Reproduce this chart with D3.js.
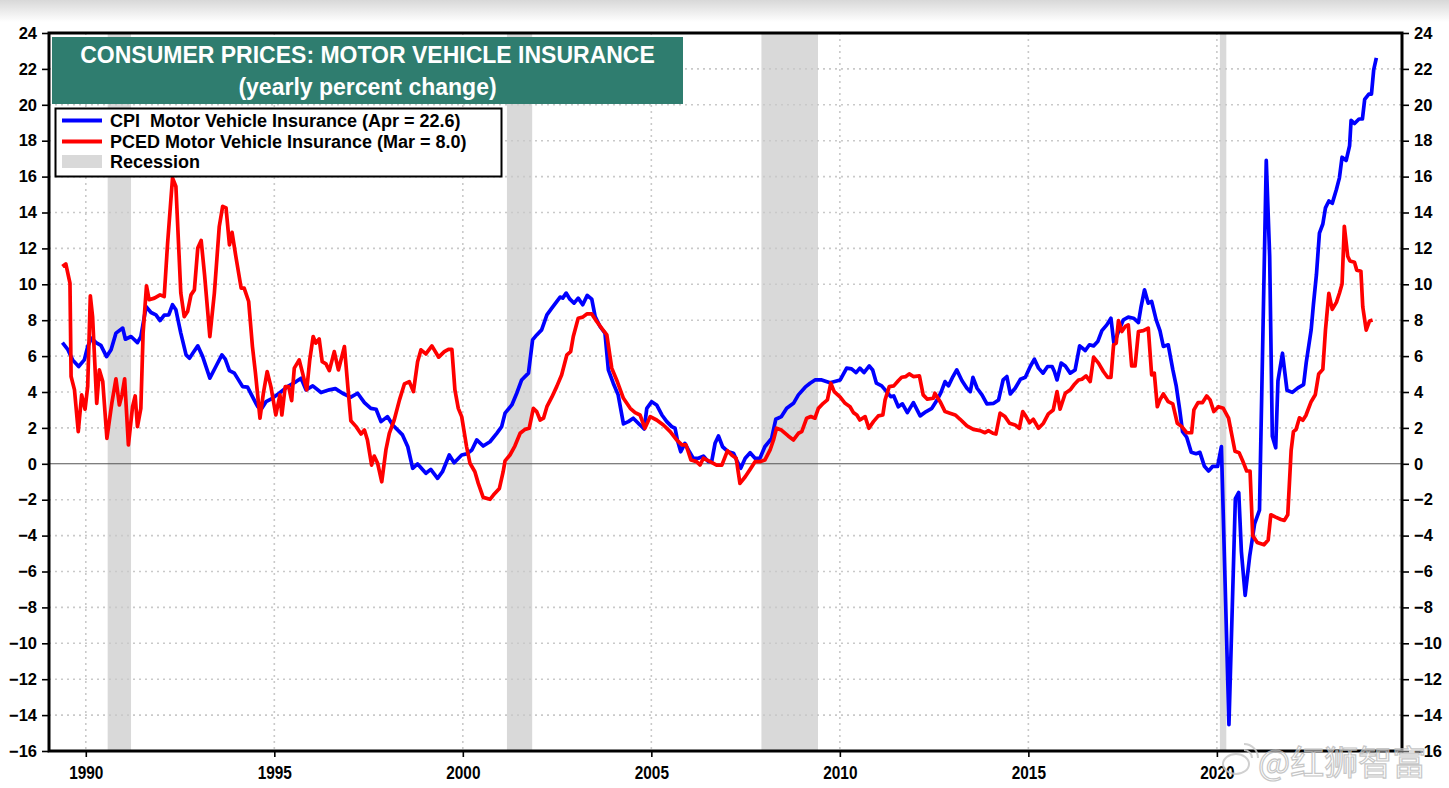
<!DOCTYPE html>
<html>
<head>
<meta charset="utf-8">
<script src="https://cdn.jsdelivr.net/npm/d3@7/dist/d3.min.js"></script>
<style>
  html, body { margin: 0; padding: 0; background: #fff; }
  svg { display: block; }
  text { font-family: "Liberation Sans", Arial, sans-serif; }
</style>
</head>
<body>
<svg id="chart" width="1449" height="788"></svg>
<script>
// ---------------- DATA ----------------
const titleLines = ["CONSUMER PRICES: MOTOR VEHICLE INSURANCE", "(yearly percent change)"];
const legendLabels = ["CPI  Motor Vehicle Insurance (Apr = 22.6)", "PCED Motor Vehicle Insurance (Mar = 8.0)", "Recession"];
const yTicks = [-16,-14,-12,-10,-8,-6,-4,-2,0,2,4,6,8,10,12,14,16,18,20,22,24];
const xTicks = [1990, 1995, 2000, 2005, 2010, 2015, 2020];
const recessionStart = [1990.58, 2001.17, 2007.92, 2020.08];
const recessionEnd   = [1991.20, 2001.84, 2009.42, 2020.25];

// CPI Motor Vehicle Insurance, [decimal year, yoy %]
const cpiPoints = [
[1989.38,6.75],[1989.52,6.38],[1989.65,5.79],[1989.81,5.42],[1989.96,5.79],[1990.05,6.53],[1990.15,7.0],
[1990.27,6.75],[1990.40,6.6],[1990.55,5.97],[1990.67,6.35],[1990.80,7.28],[1990.98,7.56],[1991.05,6.94],
[1991.20,7.09],[1991.37,6.75],[1991.46,7.09],[1991.60,8.76],[1991.73,8.43],[1991.86,8.30],[1991.97,7.98],
[1992.08,8.28],[1992.20,8.30],[1992.30,8.86],[1992.39,8.58],[1992.52,7.28],[1992.66,6.07],[1992.75,5.88],
[1992.85,6.20],[1992.97,6.57],[1993.10,5.97],[1993.29,4.77],[1993.45,5.42],[1993.61,6.07],[1993.70,5.83],
[1993.81,5.19],[1993.94,5.05],[1994.16,4.30],[1994.29,4.27],[1994.42,3.74],[1994.56,3.18],[1994.67,3.09],
[1994.78,3.46],[1994.91,3.60],[1995.13,3.93],[1995.35,4.30],[1995.58,4.58],[1995.71,4.77],[1995.84,4.12],
[1996.02,4.34],[1996.24,3.97],[1996.46,4.12],[1996.62,4.19],[1996.81,3.93],[1997.03,3.71],[1997.21,3.93],
[1997.39,3.41],[1997.56,3.09],[1997.70,3.04],[1997.83,2.35],[1998.00,2.63],[1998.14,2.16],[1998.40,1.61],
[1998.54,0.95],[1998.67,-0.25],[1998.80,-0.01],[1999.02,-0.53],[1999.15,-0.31],[1999.33,-0.81],[1999.46,-0.44],
[1999.64,0.49],[1999.77,0.06],[1999.97,0.49],[2000.10,0.55],[2000.24,0.77],[2000.37,1.33],[2000.54,0.99],
[2000.72,1.23],[2000.90,1.70],[2001.03,2.07],[2001.12,2.82],[2001.30,3.28],[2001.43,3.93],[2001.56,4.67],
[2001.74,5.05],[2001.85,6.90],[2001.96,7.18],[2002.09,7.46],[2002.23,8.30],[2002.36,8.67],[2002.49,9.04],
[2002.58,9.29],[2002.65,9.23],[2002.74,9.51],[2002.84,9.17],[2002.95,8.95],[2003.06,9.23],[2003.18,8.86],
[2003.30,9.38],[2003.42,9.17],[2003.51,8.20],[2003.64,7.65],[2003.77,7.28],[2003.86,5.23],[2003.99,4.49],
[2004.12,3.84],[2004.26,2.22],[2004.39,2.35],[2004.52,2.54],[2004.70,2.16],[2004.81,1.94],[2004.88,3.09],
[2005.01,3.46],[2005.14,3.28],[2005.28,2.72],[2005.41,2.35],[2005.54,2.07],[2005.63,1.98],[2005.69,1.33],
[2005.78,0.67],[2005.89,1.14],[2006.01,0.67],[2006.11,0.31],[2006.25,0.31],[2006.38,0.43],[2006.51,0.12],
[2006.60,0.12],[2006.69,1.14],[2006.78,1.55],[2006.89,0.95],[2007.04,0.67],[2007.18,0.59],[2007.26,0.21],
[2007.37,-0.25],[2007.49,0.31],[2007.62,0.62],[2007.75,0.31],[2007.88,0.31],[2008.01,0.95],[2008.19,1.42],
[2008.30,2.48],[2008.45,2.63],[2008.59,3.09],[2008.77,3.37],[2008.90,3.84],[2009.08,4.27],[2009.21,4.49],
[2009.34,4.67],[2009.52,4.67],[2009.74,4.52],[2010.01,4.67],[2010.18,5.33],[2010.31,5.29],[2010.43,5.08],
[2010.53,5.33],[2010.64,5.08],[2010.78,5.45],[2010.87,5.23],[2010.97,4.49],[2011.11,4.34],[2011.24,4.02],
[2011.35,3.74],[2011.43,3.78],[2011.55,3.18],[2011.66,3.34],[2011.79,2.85],[2011.95,3.41],[2012.13,2.67],
[2012.29,2.91],[2012.44,3.09],[2012.57,3.52],[2012.68,3.97],[2012.79,4.58],[2012.88,4.34],[2013.00,4.86],
[2013.10,5.23],[2013.24,4.63],[2013.37,4.21],[2013.46,4.02],[2013.53,4.82],[2013.64,4.21],[2013.77,3.84],
[2013.90,3.34],[2014.08,3.37],[2014.21,3.56],[2014.33,4.67],[2014.43,4.86],[2014.52,3.89],[2014.65,4.21],
[2014.79,4.71],[2014.92,4.82],[2015.05,5.42],[2015.16,5.83],[2015.27,5.33],[2015.39,5.05],[2015.51,5.42],
[2015.63,5.42],[2015.69,5.14],[2015.76,4.67],[2015.87,5.61],[2015.98,5.45],[2016.11,5.05],[2016.24,5.23],
[2016.36,6.57],[2016.51,6.31],[2016.62,6.63],[2016.73,6.57],[2016.84,6.81],[2016.95,7.42],[2017.08,7.74],
[2017.19,8.11],[2017.27,6.68],[2017.39,7.37],[2017.52,8.02],[2017.65,8.17],[2017.79,8.11],[2017.92,7.87],
[2017.99,8.76],[2018.08,9.69],[2018.18,8.95],[2018.27,9.04],[2018.39,8.02],[2018.49,7.42],[2018.58,6.54],
[2018.71,6.63],[2018.83,5.26],[2018.92,4.36],[2019.01,3.07],[2019.09,1.79],[2019.20,1.48],[2019.32,0.64],
[2019.45,0.56],[2019.55,0.64],[2019.67,-0.14],[2019.78,-0.40],[2019.89,-0.14],[2020.02,-0.14],[2020.12,0.96],
[2020.32,-14.53],[2020.49,-1.94],[2020.58,-1.60],[2020.65,-4.89],[2020.75,-7.33],[2020.87,-5.15],[2021.00,-3.35],
[2021.13,-2.58],[2021.31,16.90],[2021.40,11.56],[2021.47,1.53],[2021.56,0.89],[2021.62,4.62],[2021.74,6.16],
[2021.86,4.10],[2022.00,3.98],[2022.15,4.23],[2022.30,4.41],[2022.37,5.64],[2022.50,7.45],[2022.56,8.86],
[2022.64,10.53],[2022.72,12.85],[2022.81,13.36],[2022.88,14.26],[2022.97,14.64],[2023.06,14.51],[2023.17,15.28],
[2023.25,15.93],[2023.32,17.08],[2023.43,16.90],[2023.52,17.72],[2023.56,19.14],[2023.65,18.96],[2023.77,19.21],
[2023.86,19.21],[2023.92,20.30],[2024.03,20.60],[2024.10,20.60],[2024.16,21.96],[2024.23,22.61]
];

// PCED Motor Vehicle Insurance, [decimal year, yoy %]
const pcedPoints = [
[1989.38,10.99],[1989.47,11.14],[1989.58,10.07],[1989.61,4.86],[1989.70,4.12],[1989.80,1.79],[1989.89,3.84],
[1989.98,3.04],[1990.05,4.30],[1990.12,9.36],[1990.18,8.20],[1990.29,3.37],[1990.36,5.23],[1990.45,4.58],
[1990.56,1.42],[1990.69,3.37],[1990.80,4.73],[1990.89,3.28],[1990.96,3.84],[1991.03,4.73],[1991.13,1.05],
[1991.24,3.18],[1991.31,3.78],[1991.37,2.07],[1991.46,3.09],[1991.52,7.28],[1991.61,9.92],[1991.68,9.14],
[1991.82,9.23],[1991.97,9.41],[1992.08,9.32],[1992.17,12.30],[1992.30,15.92],[1992.39,15.45],[1992.52,9.51],
[1992.61,8.20],[1992.70,8.48],[1992.79,9.41],[1992.88,9.69],[1992.97,12.02],[1993.06,12.44],[1993.15,10.53],
[1993.29,7.09],[1993.41,9.51],[1993.54,13.22],[1993.63,14.34],[1993.72,14.25],[1993.81,12.20],[1993.88,12.89],
[1993.98,11.55],[1994.12,9.79],[1994.20,9.79],[1994.32,9.04],[1994.42,6.53],[1994.50,5.05],[1994.62,2.54],
[1994.71,3.93],[1994.81,5.14],[1994.91,4.30],[1995.04,2.72],[1995.15,3.84],[1995.20,2.72],[1995.29,4.30],
[1995.38,4.30],[1995.46,3.52],[1995.53,5.33],[1995.66,5.79],[1995.75,5.05],[1995.86,4.12],[1995.94,5.79],
[1996.03,7.09],[1996.10,6.72],[1996.19,6.96],[1996.27,5.69],[1996.37,5.57],[1996.46,5.19],[1996.59,6.25],
[1996.70,5.23],[1996.86,6.53],[1996.95,4.30],[1997.03,2.40],[1997.17,2.07],[1997.30,1.66],[1997.39,1.88],
[1997.47,1.33],[1997.58,-0.07],[1997.65,0.43],[1997.74,0.03],[1997.85,-1.0],[1997.96,0.77],[1998.05,1.70],
[1998.18,2.44],[1998.32,3.56],[1998.45,4.45],[1998.58,4.58],[1998.69,4.02],[1998.80,5.69],[1998.89,6.35],
[1999.02,6.12],[1999.18,6.57],[1999.36,5.94],[1999.51,6.25],[1999.62,6.38],[1999.71,6.38],[1999.79,4.12],
[1999.88,3.09],[1999.97,2.63],[2000.10,0.95],[2000.19,0.03],[2000.32,-0.44],[2000.41,-1.09],[2000.54,-1.87],
[2000.72,-1.98],[2000.81,-1.74],[2000.97,-1.37],[2001.07,-0.44],[2001.12,0.16],[2001.25,0.49],[2001.38,0.99],
[2001.52,1.70],[2001.65,1.92],[2001.76,1.98],[2001.87,3.09],[2001.96,2.91],[2002.05,2.44],[2002.14,2.54],
[2002.23,3.18],[2002.36,3.71],[2002.49,4.30],[2002.62,4.95],[2002.76,6.07],[2002.86,6.25],[2002.93,7.09],
[2003.06,8.11],[2003.18,8.17],[2003.29,8.35],[2003.42,8.35],[2003.55,7.93],[2003.68,7.56],[2003.82,7.18],
[2003.95,5.33],[2004.08,4.67],[2004.26,3.65],[2004.44,3.09],[2004.57,2.85],[2004.70,2.72],[2004.83,1.98],
[2004.97,2.63],[2005.14,2.44],[2005.32,2.16],[2005.50,1.79],[2005.67,1.33],[2005.81,1.05],[2005.92,1.05],
[2006.05,0.21],[2006.20,0.12],[2006.29,-0.07],[2006.38,0.31],[2006.56,0.12],[2006.73,-0.07],[2006.87,-0.07],
[2007.02,0.73],[2007.13,0.49],[2007.25,0.31],[2007.35,-1.09],[2007.49,-0.72],[2007.62,-0.31],[2007.75,0.12],
[2007.88,0.12],[2008.01,0.21],[2008.15,0.77],[2008.24,1.33],[2008.32,1.98],[2008.45,1.88],[2008.63,1.55],
[2008.77,1.33],[2008.90,1.70],[2008.99,1.79],[2009.12,2.54],[2009.23,2.63],[2009.34,2.54],[2009.43,3.09],
[2009.56,3.37],[2009.67,3.56],[2009.76,4.49],[2009.85,4.02],[2010.01,3.71],[2010.14,3.37],[2010.27,3.18],
[2010.36,2.85],[2010.45,2.72],[2010.53,2.44],[2010.67,2.63],[2010.77,1.98],[2010.89,2.35],[2011.02,2.67],
[2011.14,2.72],[2011.20,3.56],[2011.31,4.30],[2011.43,4.34],[2011.55,4.63],[2011.64,4.82],[2011.75,4.86],
[2011.84,5.01],[2011.95,4.86],[2012.11,4.90],[2012.21,3.84],[2012.32,3.60],[2012.48,3.65],[2012.52,3.93],
[2012.66,3.46],[2012.79,2.91],[2012.92,2.82],[2013.06,2.72],[2013.19,2.48],[2013.37,2.11],[2013.54,1.92],
[2013.72,1.85],[2013.85,1.73],[2013.94,1.85],[2014.06,1.70],[2014.14,1.66],[2014.25,2.82],[2014.38,2.63],
[2014.50,2.26],[2014.65,2.16],[2014.76,1.98],[2014.85,2.91],[2014.94,2.63],[2015.03,2.29],[2015.13,2.48],
[2015.27,1.98],[2015.40,2.26],[2015.53,2.78],[2015.66,3.00],[2015.76,4.02],[2015.84,3.04],[2015.98,3.93],
[2016.11,4.12],[2016.21,4.40],[2016.33,4.67],[2016.42,4.71],[2016.53,4.90],[2016.64,4.58],[2016.73,5.94],
[2016.86,5.61],[2016.99,5.14],[2017.10,4.82],[2017.19,4.82],[2017.26,6.63],[2017.33,6.72],[2017.39,7.98],
[2017.48,7.37],[2017.57,7.65],[2017.65,7.74],[2017.74,5.45],[2017.83,5.45],[2017.92,7.37],[2018.05,7.42],
[2018.18,7.56],[2018.27,4.95],[2018.34,5.05],[2018.42,3.18],[2018.49,3.56],[2018.58,3.89],[2018.71,3.46],
[2018.83,3.34],[2018.95,2.26],[2019.07,2.07],[2019.20,1.73],[2019.33,1.73],[2019.39,3.00],[2019.50,3.41],
[2019.62,3.41],[2019.73,3.78],[2019.82,3.56],[2019.92,2.91],[2020.04,3.18],[2020.17,3.09],[2020.31,2.55],
[2020.48,0.70],[2020.59,0.62],[2020.68,0.19],[2020.79,-0.40],[2020.88,-0.40],[2020.95,-3.99],[2021.07,-4.38],
[2021.25,-4.51],[2021.36,-4.25],[2021.43,-2.84],[2021.56,-2.97],[2021.70,-3.10],[2021.79,-3.15],[2021.88,-2.84],
[2021.97,0.76],[2022.03,1.79],[2022.10,1.91],[2022.19,2.56],[2022.28,2.43],[2022.36,2.69],[2022.50,3.46],
[2022.61,3.85],[2022.70,5.00],[2022.81,5.26],[2022.88,7.45],[2022.97,9.50],[2023.06,8.60],[2023.17,8.99],
[2023.25,9.50],[2023.32,10.02],[2023.38,13.23],[2023.47,11.56],[2023.53,11.30],[2023.65,11.23],[2023.71,10.79],
[2023.82,10.73],[2023.87,8.73],[2023.96,7.45],[2024.05,7.96],[2024.13,8.01]
];

// ---------------- DRAW ----------------
const svg = d3.select("#chart");
const W = 1449, H = 788;
const L = 49, R = 1402, T = 33, B = 751;

const x = d3.scaleLinear().domain([1989.024, 2024.91]).range([L, R]);
const y = d3.scaleLinear().domain([-16, 24]).range([B, T]);

// top shadow band
const defs = svg.append("defs");
const grad = defs.append("linearGradient").attr("id", "topShade").attr("x1", 0).attr("y1", 0).attr("x2", 0).attr("y2", 1);
grad.append("stop").attr("offset", "0%").attr("stop-color", "#d8d8d8");
grad.append("stop").attr("offset", "100%").attr("stop-color", "#ffffff");
svg.append("rect").attr("x", 0).attr("y", 0).attr("width", W).attr("height", 22).attr("fill", "url(#topShade)");

// recessions
svg.append("g").selectAll("rect").data(recessionStart).join("rect")
  .attr("x", (d) => x(d))
  .attr("width", (d, i) => x(recessionEnd[i]) - x(d))
  .attr("y", y(24)).attr("height", y(-16) - y(24))
  .attr("fill", "#d9d9d9");

// grid
const grid = svg.append("g").attr("stroke", "#c9c9c9").attr("stroke-width", 1.6).attr("stroke-dasharray", "2,4");
grid.selectAll(".hg").data(yTicks.filter(v => v !== 0 && v !== -16 && v !== 24)).join("line")
  .attr("x1", L).attr("x2", R).attr("y1", d => y(d)).attr("y2", d => y(d));
grid.selectAll(".vg").data(xTicks).join("line")
  .attr("y1", T).attr("y2", B).attr("x1", d => x(d)).attr("x2", d => x(d));

// zero line
svg.append("line").attr("x1", L).attr("x2", R).attr("y1", y(0)).attr("y2", y(0))
  .attr("stroke", "#555").attr("stroke-width", 1.1);

// series
const line = d3.line().x(d => x(d[0])).y(d => y(d[1]));
svg.append("path").datum(cpiPoints).attr("d", line)
  .attr("fill", "none").attr("stroke", "#0000ff").attr("stroke-width", 3.7).attr("stroke-linejoin", "round");
svg.append("path").datum(pcedPoints).attr("d", line)
  .attr("fill", "none").attr("stroke", "#ff0000").attr("stroke-width", 3.7).attr("stroke-linejoin", "round");

// axes
const axL = svg.append("g").attr("transform", `translate(${L},0)`)
  .call(d3.axisLeft(y).tickValues(yTicks).tickSize(7).tickPadding(5).tickFormat(d3.format("d")));
const axR = svg.append("g").attr("transform", `translate(${R},0)`)
  .call(d3.axisRight(y).tickValues(yTicks).tickSize(7).tickPadding(5).tickFormat(d3.format("d")));
const axB = svg.append("g").attr("transform", `translate(0,${B})`)
  .call(d3.axisBottom(x).tickValues(xTicks).tickSize(6).tickPadding(10).tickFormat(d3.format("d")));
[axL, axR, axB].forEach(a => {
  a.select(".domain").remove();
  a.selectAll(".tick line").attr("stroke", "#000").attr("stroke-width", 1.6);
  a.selectAll(".tick text").attr("fill", "#000").style("font-family", "'Liberation Sans', Arial, sans-serif")
    .style("font-weight", "bold").style("font-size", "16.5px");
});
axB.selectAll(".tick text").style("font-size", "17.5px").attr("transform", "scale(0.88,1)");

// frame
svg.append("rect").attr("x", L).attr("y", T).attr("width", R - L).attr("height", B - T)
  .attr("fill", "none").attr("stroke", "#000").attr("stroke-width", 3);

// title box
const tb = { x: 52, y: 37, w: 631, h: 67 };
svg.append("rect").attr("x", tb.x).attr("y", tb.y).attr("width", tb.w).attr("height", tb.h).attr("fill", "#2f7d6f");
svg.append("g").selectAll("text").data(titleLines).join("text")
  .attr("x", tb.x + tb.w / 2).attr("y", (d, i) => 63 + i * 31.5)
  .attr("text-anchor", "middle").attr("fill", "#fff")
  .style("font-weight", "bold").style("font-size", "23px").text(d => d);

// legend
const lg = svg.append("g");
lg.append("rect").attr("x", 55.5).attr("y", 108.5).attr("width", 446).attr("height", 68)
  .attr("fill", "#fff").attr("stroke", "#000").attr("stroke-width", 2);
const legendColors = ["#0000ff", "#ff0000"];
lg.selectAll(".ll").data(legendColors).join("line")
  .attr("x1", 62).attr("x2", 102).attr("y1", (d, i) => 120.5 + i * 21).attr("y2", (d, i) => 120.5 + i * 21)
  .attr("stroke", d => d).attr("stroke-width", 4);
lg.append("rect").attr("x", 62).attr("y", 155).attr("width", 40).attr("height", 13).attr("fill", "#d9d9d9");
lg.selectAll("text").data(legendLabels).join("text")
  .attr("x", 110).attr("y", (d, i) => 127 + i * 20.5)
  .attr("fill", "#000").style("font-weight", "bold").style("font-size", "18px")
  .style("white-space", "pre").text(d => d);

// watermark
const wm = svg.append("g").attr("opacity", 0.85);
wm.append("ellipse").attr("cx", 1236).attr("cy", 764).attr("rx", 13).attr("ry", 10)
  .attr("fill", "none").attr("stroke", "#c8c8c8").attr("stroke-width", 2);
wm.append("path").attr("d", "M1244,744 a14,14 0 0 1 14,14 M1244,750 a8,8 0 0 1 8,8")
  .attr("fill", "none").attr("stroke", "#c8c8c8").attr("stroke-width", 2);
wm.append("text").attr("x", 1258).attr("y", 775).text("@红狮智富")
  .style("font-family", "'Noto Sans CJK SC', sans-serif").style("font-size", "34px")
  .attr("fill", "#ffffff").attr("fill-opacity", 0.6).attr("stroke", "#bdbdbd").attr("stroke-width", 1.2);
</script>
</body>
</html>
